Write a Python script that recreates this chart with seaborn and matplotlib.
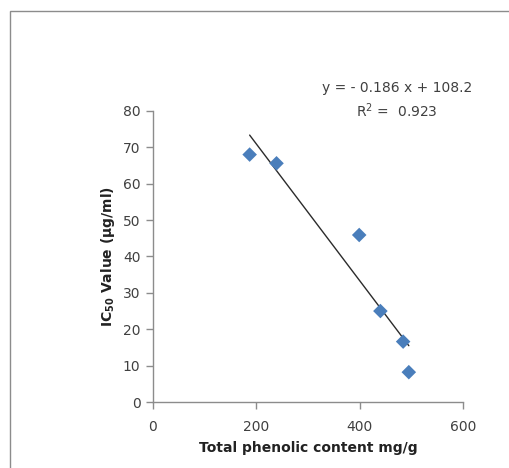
import matplotlib
matplotlib.use("Agg")
import matplotlib.pyplot as plt
import seaborn as sns
import numpy as np
import pandas as pd
from matplotlib.patches import Rectangle

phenolic = [187, 239, 399, 440, 484, 495]
ic50 = [68.0, 65.6, 45.9, 25.0, 16.6, 8.2]
x_ticks = [0, 200, 400, 600]
y_ticks = [0, 10, 20, 30, 40, 50, 60, 70, 80]
equation = "y = - 0.186 x + 108.2"
r2_text = "R$^2$ =  0.923"

df = pd.DataFrame({"x": phenolic, "y": ic50})

sns.set_style("white")
plt.rcParams['font.family'] = ['DejaVu Sans']
plt.rcParams['mathtext.fontset'] = 'dejavusans'

fig = plt.figure(figsize=(5.1, 4.68), dpi=100)
ax = fig.add_axes([0.3, 0.141, 0.608, 0.622])

sns.regplot(data=df, x="x", y="y", ax=ax, ci=None, truncate=True, marker="D",
            scatter_kws=dict(s=55, color="#4a7ebb", edgecolor="none", alpha=1.0, zorder=3),
            line_kws=dict(color="#2b2b2b", lw=1.0, zorder=2))

ax.set_xlim(0, 600)
ax.set_ylim(0, 80)
ax.set_xticks(x_ticks)
ax.set_yticks(y_ticks)
for s in ["top", "right"]:
    ax.spines[s].set_visible(False)
for s in ["left", "bottom"]:
    ax.spines[s].set_color("#8c8c8c")
    ax.spines[s].set_linewidth(1.0)
ax.tick_params(axis="both", direction="out", length=5, width=1.0, color="#8c8c8c",
               labelsize=10, labelcolor="#404040", pad=4, bottom=True, left=True)
ax.tick_params(axis="x", pad=8)
ax.set_xlabel("Total phenolic content mg/g", fontsize=10, fontweight="bold", color="#222222", labelpad=5)
ax.set_ylabel("IC$_{\\mathbf{50}}$ Value (µg/ml)", fontsize=10, fontweight="bold", color="#222222", labelpad=4)

fig.text(397 / 510, 1 - 88 / 468, equation, ha="center", va="center", fontsize=10, color="#404040")
fig.text(397 / 510, 1 - 111 / 468, r2_text, ha="center", va="center", fontsize=10, color="#404040")

fig.patches.append(Rectangle((10 / 510, -0.1), 1.2, 1 - 11 / 468 + 0.1, transform=fig.transFigure,
                             fill=False, edgecolor="#8c8c8c", lw=1.0))

fig.savefig("out.png", dpi=100)
